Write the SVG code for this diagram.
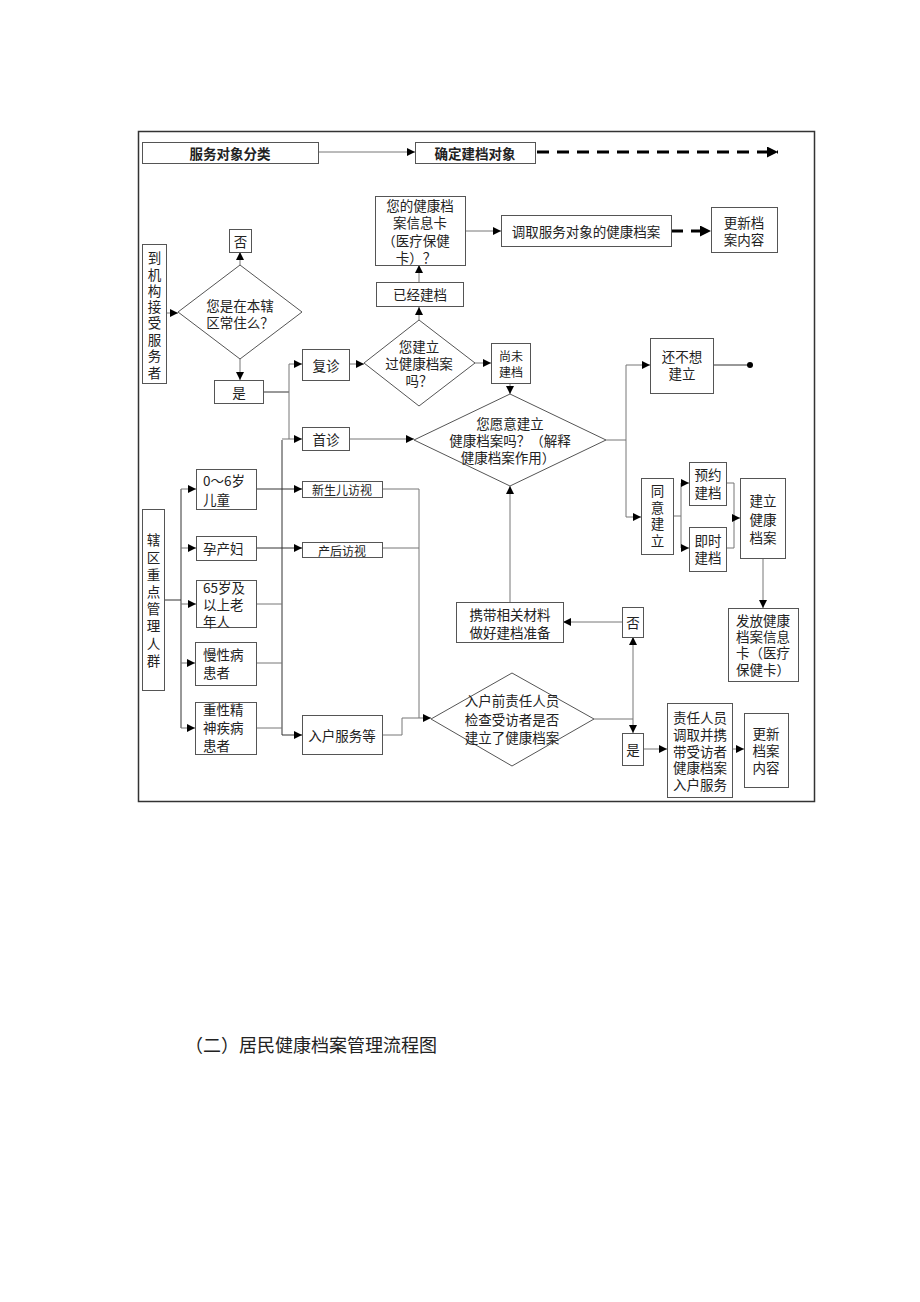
<svg xmlns="http://www.w3.org/2000/svg" width="920" height="1302" viewBox="0 0 920 1302">
<defs>
<marker id="a" viewBox="0 0 10 10" refX="10" refY="5" markerWidth="8" markerHeight="8" markerUnits="userSpaceOnUse" orient="auto"><path d="M0,0L10,5L0,10z" fill="#000"/></marker>
<marker id="ab" viewBox="0 0 10 10" refX="10" refY="5" markerWidth="17" markerHeight="11" markerUnits="userSpaceOnUse" orient="auto"><path d="M0,0L10,5L0,10z" fill="#000"/></marker>
</defs>
<style>
.b{fill:#fff;stroke:#555;stroke-width:1}
.t{font-family:"Noto Sans CJK SC","Liberation Sans",sans-serif;font-size:13.5px;fill:#222;text-anchor:middle;dominant-baseline:central}
.l{text-anchor:start}
.s{font-size:12px}
.bold{font-weight:bold;font-size:13.5px}
.c{fill:none;stroke:#777;stroke-width:1}
.ca{fill:none;stroke:#777;stroke-width:1;marker-end:url(#a)}
.cd{fill:none;stroke:#333;stroke-width:1}
</style>
<rect width="920" height="1302" fill="#fff"/>
<rect x="138.5" y="131.5" width="676" height="670" fill="none" stroke="#333" stroke-width="1.5"/>

<g id="connectors">
<path class="ca" d="M318,152H415"/>
<path d="M537,152H778" fill="none" stroke="#000" stroke-width="3" stroke-dasharray="12 8" marker-end="url(#ab)"/>
<path class="ca" d="M167,313H178"/>
<path class="ca" d="M240,265V252"/>
<path class="ca" d="M240,359V380"/>
<path class="cd" d="M263,392H289"/>
<path class="c" d="M289,364V439"/>
<path class="ca" d="M289,364H302"/>
<path class="ca" d="M282,439H302"/>
<path class="cd" d="M282,440V735H302" marker-end="url(#a)"/>
<path class="ca" d="M349,364H364"/>
<path class="ca" d="M419,320V307"/>
<path class="ca" d="M419,282V265"/>
<path class="ca" d="M465,231H501"/>
<path d="M671,231H711" fill="none" stroke="#000" stroke-width="3" stroke-dasharray="12 8" marker-end="url(#ab)"/>
<path class="ca" d="M475,363H491"/>
<path class="ca" d="M510,383V394"/>
<path class="ca" d="M349,439H414"/>
<path class="c" d="M606,440H626M626,365V517"/>
<path class="ca" d="M626,365H650"/>
<path class="ca" d="M626,517H641"/>
<path class="cd" d="M713,365H748"/>
<circle cx="750" cy="365" r="3" fill="#000"/>
<path class="c" d="M673,516H681M681,483V548"/>
<path class="ca" d="M681,483H689"/>
<path class="ca" d="M681,548H689"/>
<path class="c" d="M726,483H734M726,548H734M734,483V548"/>
<path class="ca" d="M734,518H740"/>
<path class="ca" d="M763,558V608"/>
<path class="ca" d="M510,602V486"/>
<path class="ca" d="M622,622H563"/>
<path class="c" d="M594,719H633"/>
<path class="ca" d="M633,719V637"/>
<path class="ca" d="M633,719V733"/>
<path class="ca" d="M643,749H667"/>
<path class="ca" d="M732,749H744"/>
<path class="cd" d="M164,600H181M181,489V728"/>
<path class="ca" d="M181,489H196"/>
<path class="ca" d="M181,548H196"/>
<path class="ca" d="M181,604H196"/>
<path class="ca" d="M181,663H195"/>
<path class="ca" d="M181,728H195"/>
<path class="cd" d="M256,489H302" marker-end="url(#a)"/>
<path class="cd" d="M256,548H302" stroke-width="1.5" marker-end="url(#a)"/>
<path class="c" d="M256,604H282M256,663H282M256,728H282"/>
<path class="c" d="M382,489H419V718M382,548H419"/>
<path class="c" d="M382,735H402V718H431" marker-end="url(#a)"/>
</g>

<g id="n_fwdx"><rect class="b" x="142.5" y="142.5" width="176" height="21"/><text class="t bold" x="230" y="153">服务对象分类</text></g>
<g id="n_qdjd"><rect class="b" x="415.5" y="142.5" width="120" height="21"/><text class="t bold" x="475" y="153">确定建档对象</text></g>

<g id="n_djg"><rect class="b" x="142.5" y="244.5" width="24" height="139"/>
<text class="t"><tspan x="154.5" y="257">到</tspan><tspan x="154.5" y="274">机</tspan><tspan x="154.5" y="290">构</tspan><tspan x="154.5" y="306">接</tspan><tspan x="154.5" y="322">受</tspan><tspan x="154.5" y="339">服</tspan><tspan x="154.5" y="355">务</tspan><tspan x="154.5" y="372">者</tspan></text></g>

<g id="n_fou1"><rect class="b" x="229.5" y="229.5" width="22" height="23"/><text class="t" x="240.5" y="241">否</text></g>
<g id="n_czd"><polygon class="b" points="240,265 302,312 240,359 178,312"/><text class="t"><tspan x="240" y="305">您是在本辖</tspan><tspan x="240" y="322">区常住么？</tspan></text></g>
<g id="n_shi1"><rect class="b" x="214.5" y="380.5" width="49" height="23"/><text class="t" x="239" y="392">是</text></g>

<g id="n_xx"><rect class="b" x="375.5" y="196.5" width="90" height="69"/>
<text class="t"><tspan x="420" y="205">您的健康档</tspan><tspan x="420" y="222">案信息卡</tspan><tspan x="416" y="240">（医疗保健</tspan><tspan x="416" y="257">卡）？</tspan></text></g>
<g id="n_dq"><rect class="b" x="501.5" y="215.5" width="170" height="31"/><text class="t" x="586" y="231">调取服务对象的健康档案</text></g>
<g id="n_gx1"><rect class="b" x="711.5" y="207.5" width="66" height="45"/><text class="t"><tspan x="744" y="222">更新档</tspan><tspan x="744" y="239">案内容</tspan></text></g>
<g id="n_yj"><rect class="b" x="376.5" y="282.5" width="87" height="24"/><text class="t" x="420" y="294">已经建档</text></g>

<g id="n_fz"><rect class="b" x="302.5" y="349.5" width="47" height="31"/><text class="t" x="326" y="365">复诊</text></g>
<g id="n_jlg"><polygon class="b" points="419,320 475,363 419,406 364,363"/><text class="t"><tspan x="419" y="346">您建立</tspan><tspan x="419" y="363">过健康档案</tspan><tspan x="419" y="380">吗？</tspan></text></g>
<g id="n_sw"><rect class="b" x="491.5" y="343.5" width="39" height="40"/><text class="t s"><tspan x="511" y="355">尚未</tspan><tspan x="511" y="371">建档</tspan></text></g>
<g id="n_sz"><rect class="b" x="302.5" y="427.5" width="47" height="23"/><text class="t" x="326" y="439">首诊</text></g>
<g id="n_yy"><polygon class="b" points="510,394 606,440 510,486 414,440"/><text class="t"><tspan x="510" y="423">您愿意建立</tspan><tspan x="510" y="440">健康档案吗？（解释</tspan><tspan x="508" y="457">健康档案作用）</tspan></text></g>
<g id="n_bx"><rect class="b" x="650.5" y="338.5" width="63" height="55"/><text class="t"><tspan x="682" y="356">还不想</tspan><tspan x="682" y="373">建立</tspan></text></g>

<g id="n_ty"><rect class="b" x="641.5" y="478.5" width="32" height="76"/><text class="t"><tspan x="657.5" y="490">同</tspan><tspan x="657.5" y="507">意</tspan><tspan x="657.5" y="523">建</tspan><tspan x="657.5" y="540">立</tspan></text></g>
<g id="n_yy2"><rect class="b" x="689.5" y="462.5" width="37" height="43"/><text class="t"><tspan x="708" y="474">预约</tspan><tspan x="708" y="492">建档</tspan></text></g>
<g id="n_js"><rect class="b" x="689.5" y="527.5" width="37" height="44"/><text class="t"><tspan x="708" y="540">即时</tspan><tspan x="708" y="557">建档</tspan></text></g>
<g id="n_jl"><rect class="b" x="740.5" y="478.5" width="45" height="80"/><text class="t"><tspan x="763" y="500">建立</tspan><tspan x="763" y="519">健康</tspan><tspan x="763" y="537">档案</tspan></text></g>
<g id="n_ff"><rect class="b" x="728.5" y="608.5" width="70" height="73"/><text class="t"><tspan x="763" y="620">发放健康</tspan><tspan x="763" y="636">档案信息</tspan><tspan x="763" y="652">卡（医疗</tspan><tspan x="763" y="669">保健卡）</tspan></text></g>

<g id="n_xd"><rect class="b" x="456.5" y="602.5" width="107" height="40"/><text class="t"><tspan x="510" y="614">携带相关材料</tspan><tspan x="510" y="632">做好建档准备</tspan></text></g>
<g id="n_fou2"><rect class="b" x="622.5" y="607.5" width="21" height="30"/><text class="t" x="633" y="622">否</text></g>
<g id="n_rhq"><polygon class="b" points="512,673 594,719 512,766 431,719"/><text class="t"><tspan x="512" y="700">入户前责任人员</tspan><tspan x="512" y="719">检查受访者是否</tspan><tspan x="512" y="737">建立了健康档案</tspan></text></g>
<g id="n_shi2"><rect class="b" x="622.5" y="733.5" width="21" height="32"/><text class="t" x="633" y="749">是</text></g>
<g id="n_zr"><rect class="b" x="667.5" y="703.5" width="65" height="94"/><text class="t"><tspan x="700" y="717">责任人员</tspan><tspan x="700" y="734">调取并携</tspan><tspan x="700" y="751">带受访者</tspan><tspan x="700" y="767">健康档案</tspan><tspan x="700" y="784">入户服务</tspan></text></g>
<g id="n_gx2"><rect class="b" x="744.5" y="713.5" width="44" height="74"/><text class="t"><tspan x="766" y="733">更新</tspan><tspan x="766" y="750">档案</tspan><tspan x="766" y="767">内容</tspan></text></g>

<g id="n_xq"><rect class="b" x="142.5" y="509.5" width="22" height="181"/>
<text class="t"><tspan x="153.5" y="539">辖</tspan><tspan x="153.5" y="557">区</tspan><tspan x="153.5" y="574">重</tspan><tspan x="153.5" y="591">点</tspan><tspan x="153.5" y="608">管</tspan><tspan x="153.5" y="625">理</tspan><tspan x="153.5" y="643">人</tspan><tspan x="153.5" y="660">群</tspan></text></g>
<g id="n_et"><rect class="b" x="196.5" y="469.5" width="60" height="40"/><text class="t l"><tspan x="203" y="480">0～6岁</tspan><tspan x="203" y="499">儿童</tspan></text></g>
<g id="n_ycf"><rect class="b" x="196.5" y="536.5" width="60" height="24"/><text class="t l" x="203" y="548">孕产妇</text></g>
<g id="n_lnr"><rect class="b" x="196.5" y="580.5" width="60" height="47"/><text class="t l"><tspan x="203" y="587">65岁及</tspan><tspan x="203" y="604">以上老</tspan><tspan x="203" y="621">年人</tspan></text></g>
<g id="n_mx"><rect class="b" x="195.5" y="642.5" width="61" height="43"/><text class="t l"><tspan x="203" y="654">慢性病</tspan><tspan x="203" y="672">患者</tspan></text></g>
<g id="n_jsb"><rect class="b" x="195.5" y="702.5" width="61" height="52"/><text class="t l"><tspan x="203" y="709">重性精</tspan><tspan x="203" y="727">神疾病</tspan><tspan x="203" y="745">患者</tspan></text></g>
<g id="n_xse"><rect class="b" x="302.5" y="481.5" width="80" height="16"/><text class="t s" x="342" y="489.5">新生儿访视</text></g>
<g id="n_chf"><rect class="b" x="302.5" y="542.5" width="80" height="15"/><text class="t s" x="342" y="550">产后访视</text></g>
<g id="n_rhfw"><rect class="b" x="302.5" y="715.5" width="80" height="39"/><text class="t" x="342" y="735">入户服务等</text></g>

<text x="185" y="1044" font-family="Noto Sans CJK SC, Liberation Sans, sans-serif" font-size="18" fill="#222" dominant-baseline="central">（二）居民健康档案管理流程图</text>
</svg>
